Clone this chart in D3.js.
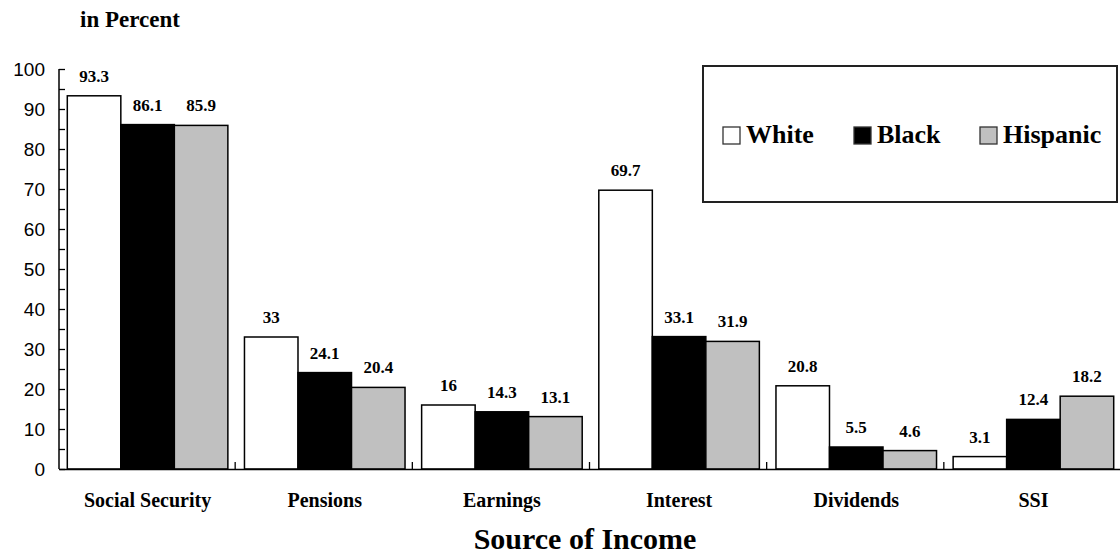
<!DOCTYPE html>
<html>
<head>
<meta charset="utf-8">
<script src="https://cdn.jsdelivr.net/npm/d3@7"></script>
<style>
  html, body { margin: 0; padding: 0; background: #fff; }
  svg { display: block; }
  .serif { font-family: "Liberation Serif", "Times New Roman", Tinos, serif; font-weight: bold; }
  .sans { font-family: "Liberation Sans", Arial, Arimo, sans-serif; }
</style>
</head>
<body>
<svg id="chart" width="1120" height="555"></svg>
<script>
// Share of aged units receiving each source of income, by race / Hispanic origin
const categories = ["Social Security", "Pensions", "Earnings", "Interest", "Dividends", "SSI"];
const seriesNames = ["White", "Black", "Hispanic"];
const white    = [93.3, 33, 16, 69.7, 20.8, 3.1];
const black    = [86.1, 24.1, 14.3, 33.1, 5.5, 12.4];
const hispanic = [85.9, 20.4, 13.1, 31.9, 4.6, 18.2];
const yTicks = [0, 10, 20, 30, 40, 50, 60, 70, 80, 90, 100];
const seriesValues = [white, black, hispanic];
const seriesFill = ["#ffffff", "#000000", "#c0c0c0"];

const svg = d3.select("#chart");

const plotLeft = 59, plotRight = 1122, plotTop = 69, plotBottom = 469;

const y = d3.scaleLinear().domain([0, 100]).range([plotBottom, plotTop]);
const x0 = d3.scaleBand().domain(categories).range([plotLeft, plotRight]).padding(0);
const inset = 8.3;
const x1 = d3.scaleBand().domain(seriesNames).range([inset, x0.bandwidth() - inset]).padding(0);

// y-axis: ticks every 5, pointing inward
const yAxis = d3.axisRight(y).tickValues(d3.range(0, 101, 5)).tickSize(6).tickFormat("");
const gy = svg.append("g").attr("transform", `translate(${plotLeft},0)`).call(yAxis);
gy.select(".domain").attr("stroke", "#000").attr("stroke-width", 1.5).attr("d", `M0,${plotBottom}V${plotTop}`);
gy.selectAll(".tick line").attr("stroke", "#000").attr("stroke-width", 1.3);

svg.append("g").selectAll("text").data(yTicks).join("text")
  .attr("class", "sans")
  .attr("x", 45).attr("y", d => y(d)).attr("dy", "0.36em")
  .attr("text-anchor", "end")
  .style("font-size", "19px")
  .text(d => d);

// bars
const groups = svg.append("g").selectAll("g").data(categories).join("g")
  .attr("transform", c => `translate(${x0(c)},0)`);

groups.each(function (c, ci) {
  const g = d3.select(this);
  seriesNames.forEach((s, si) => {
    const v = seriesValues[si][ci];
    g.append("rect")
      .attr("x", x1(s)).attr("y", y(v))
      .attr("width", x1.bandwidth()).attr("height", y(0) - y(v))
      .attr("fill", seriesFill[si]).attr("stroke", "#000").attr("stroke-width", 1.5);
    g.append("text")
      .attr("class", "serif")
      .attr("x", x1(s) + x1.bandwidth() / 2).attr("y", y(v) - 14)
      .attr("text-anchor", "middle")
      .style("font-size", "17px")
      .text(v);
  });
});

// x-axis: baseline with short upward ticks between groups
const xAxis = d3.axisTop(x0).tickValues([]).tickSizeOuter(0);
const gx = svg.append("g").attr("transform", `translate(0,${plotBottom})`).call(xAxis);
gx.select(".domain").attr("stroke", "#000").attr("stroke-width", 1.5);
svg.append("g").selectAll("line").data(categories.slice(1)).join("line")
  .attr("x1", c => x0(c) - 1).attr("x2", c => x0(c) - 1)
  .attr("y1", plotBottom).attr("y2", plotBottom - 7)
  .attr("stroke", "#000").attr("stroke-width", 1.3);

svg.append("g").selectAll("text").data(categories).join("text")
  .attr("class", "serif")
  .attr("x", c => x0(c) + x0.bandwidth() / 2).attr("y", 507)
  .attr("text-anchor", "middle")
  .style("font-size", "20px")
  .text(c => c);

// titles
svg.append("text").attr("class", "serif")
  .attr("x", 585).attr("y", 549).attr("text-anchor", "middle")
  .style("font-size", "30px")
  .text("Source of Income");

svg.append("text").attr("class", "serif")
  .attr("x", 80).attr("y", 27)
  .style("font-size", "23px")
  .text("in Percent");

// legend
const legend = svg.append("g");
legend.append("rect").attr("x", 703).attr("y", 66).attr("width", 414).attr("height", 136)
  .attr("fill", "#fff").attr("stroke", "#222").attr("stroke-width", 2);
const legendX = [723, 854, 980];
seriesNames.forEach((s, i) => {
  legend.append("rect").attr("x", legendX[i]).attr("y", 127).attr("width", 17).attr("height", 17)
    .attr("fill", seriesFill[i]).attr("stroke", "#333").attr("stroke-width", 1.3);
  legend.append("text").attr("class", "serif")
    .attr("x", legendX[i] + 23).attr("y", 143)
    .style("font-size", "26px")
    .text(s);
});
</script>
</body>
</html>
